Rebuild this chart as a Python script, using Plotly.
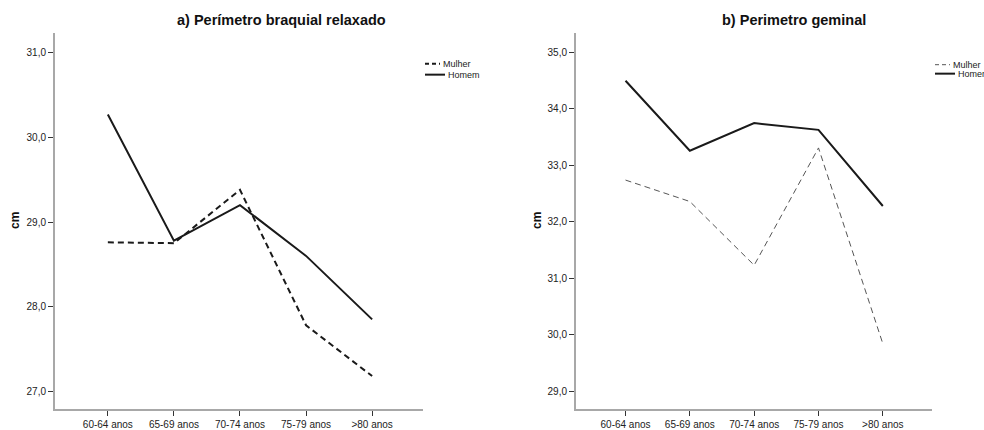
import plotly.graph_objects as go

# Age groups and mean values (cm) per sex
categories = ["60-64 anos", "65-69 anos", "70-74 anos", "75-79 anos", ">80 anos"]

braquial_mulher = [28.76, 28.75, 29.38, 27.78, 27.18]
braquial_homem = [30.27, 28.78, 29.20, 28.60, 27.85]

geminal_mulher = [32.74, 32.36, 31.23, 33.31, 29.84]
geminal_homem = [34.50, 33.26, 33.75, 33.63, 32.28]

braquial_ticks = [27.0, 28.0, 29.0, 30.0, 31.0]
geminal_ticks = [29.0, 30.0, 31.0, 32.0, 33.0, 34.0, 35.0]

W, H = 984, 430
FONT = "Liberation Sans, Arial, sans-serif"


def px_x(p):
    return p / W


def px_y(p):
    return 1 - p / H


def fmt(v):
    return f"{v:.1f}".replace(".", ",")


fig = go.Figure()

# a) Perímetro braquial relaxado
fig.add_trace(go.Scatter(x=categories, y=braquial_mulher, mode="lines", name="Mulher",
                         line=dict(color="#1a1a1a", width=2, dash="6px,4px"),
                         xaxis="x", yaxis="y", showlegend=False))
fig.add_trace(go.Scatter(x=categories, y=braquial_homem, mode="lines", name="Homem",
                         line=dict(color="#1a1a1a", width=2),
                         xaxis="x", yaxis="y", showlegend=False))

# b) Perimetro geminal
fig.add_trace(go.Scatter(x=categories, y=geminal_mulher, mode="lines", name="Mulher",
                         line=dict(color="#555555", width=1, dash="6px,4px"),
                         xaxis="x2", yaxis="y2", showlegend=False))
fig.add_trace(go.Scatter(x=categories, y=geminal_homem, mode="lines", name="Homem",
                         line=dict(color="#1a1a1a", width=2),
                         xaxis="x2", yaxis="y2", showlegend=False))

y_dom = [px_y(411), px_y(33)]

common_x = dict(type="category", showline=True, linecolor="#a8a8a8", linewidth=2,
                ticks="outside", ticklen=5, tickcolor="#333", tickwidth=1,
                showgrid=False, zeroline=False,
                tickfont=dict(family=FONT, size=10, color="#222"))
common_y = dict(showline=True, linecolor="#a8a8a8", linewidth=2,
                ticks="outside", ticklen=5, tickcolor="#333", tickwidth=1,
                showgrid=False, zeroline=False,
                tickfont=dict(family=FONT, size=10, color="#222"))

fig.update_layout(
    width=W, height=H,
    margin=dict(l=0, r=0, t=0, b=0),
    plot_bgcolor="white", paper_bgcolor="white",
    xaxis=dict(common_x, domain=[px_x(55), px_x(423)], range=[-0.8, 4.77], anchor="y"),
    yaxis=dict(common_y, domain=y_dom, range=[26.79, 31.235], anchor="x",
               tickvals=braquial_ticks, ticktext=[fmt(v) for v in braquial_ticks]),
    xaxis2=dict(common_x, domain=[px_x(576), px_x(931.7)], range=[-0.77, 4.76], anchor="y2"),
    yaxis2=dict(common_y, domain=y_dom, range=[28.68, 35.35], anchor="x2",
                tickvals=geminal_ticks, ticktext=[fmt(v) for v in geminal_ticks]),
    showlegend=False,
)

# Titles
for text, xc in [("a) Perímetro braquial relaxado", 281), ("b) Perimetro geminal", 794)]:
    fig.add_annotation(text=f"<b>{text}</b>", x=px_x(xc), y=px_y(20), xref="paper", yref="paper",
                       showarrow=False, xanchor="center", yanchor="middle",
                       font=dict(family=FONT, size=14.5, color="#111"))

# Y-axis titles
for xc in (15, 537):
    fig.add_annotation(text="<b>cm</b>", x=px_x(xc), y=px_y(222), xref="paper", yref="paper",
                       showarrow=False, textangle=-90, xanchor="center", yanchor="middle",
                       font=dict(family=FONT, size=12, color="#111"))

# Legend keys drawn next to each panel
legends = [
    (425, [("Mulher", 64, dict(color="#1a1a1a", width=2, dash="4px,3px"), 440),
           ("Homem", 75, dict(color="#1a1a1a", width=2), 445)]),
    (935, [("Mulher", 65, dict(color="#555555", width=1, dash="4px,3px"), 950),
           ("Homem", 74, dict(color="#1a1a1a", width=2), 955)]),
]
for x0, items in legends:
    for label, yp, line, x1 in items:
        fig.add_shape(type="line", xref="paper", yref="paper",
                      x0=px_x(x0), x1=px_x(x1), y0=px_y(yp), y1=px_y(yp), line=line)
        fig.add_annotation(text=label, x=px_x(x1 + 1), y=px_y(yp), xref="paper", yref="paper",
                           showarrow=False, xanchor="left", yanchor="middle",
                           font=dict(family=FONT, size=9, color="#222"))

fig.write_html("out.html")
